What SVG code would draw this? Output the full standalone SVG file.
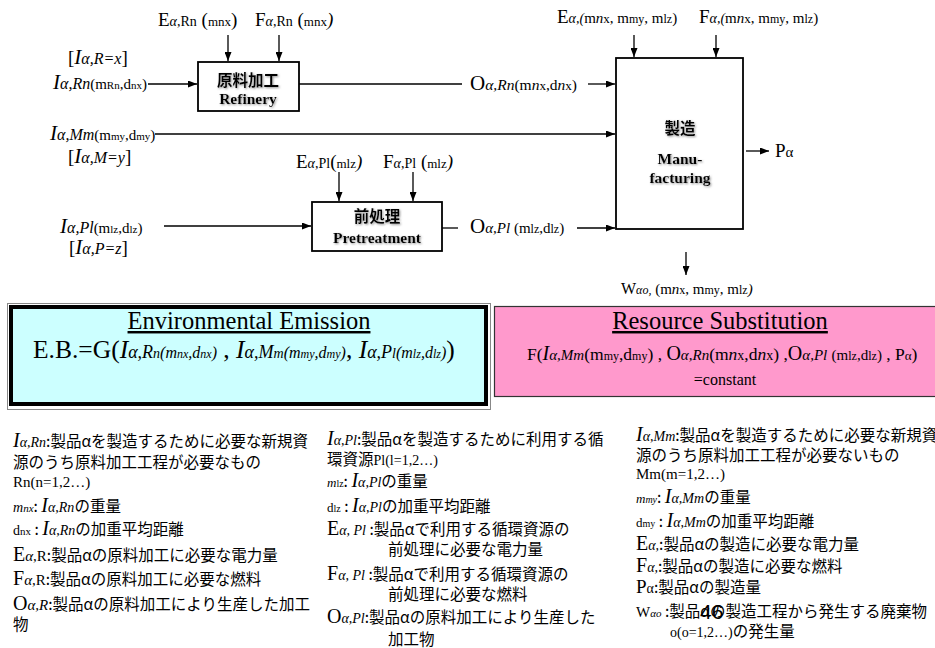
<svg xmlns="http://www.w3.org/2000/svg" width="935" height="648" viewBox="0 0 935 648">
  <style>
    .tm { font-family: "Liberation Serif", "Times New Roman", serif; fill: #000; }
    .jp { font-family: "Noto Sans CJK JP", sans-serif; fill: #000; }
    .it { font-style: italic; }
    .box { fill: #fff; stroke: #000; stroke-width: 1.8; }
    .ttl { font-weight: bold; font-size: 15.5px; text-anchor: middle; }
    .conn path { fill: none; stroke: #000; stroke-width: 1.3; }
    .arr { marker-end: url(#ah); }
    .legend { font-size: 15.5px; }
  </style>
  <defs>
    <marker id="ah" markerWidth="9" markerHeight="7" refX="9" refY="3.5" orient="auto" markerUnits="userSpaceOnUse">
      <path d="M0,0 L9,3.5 L0,7 z" fill="#000"/>
    </marker>
    <filter id="sh" x="-20%" y="-40%" width="140%" height="180%">
      <feDropShadow dx="1" dy="1" stdDeviation="0.8" flood-color="#777" flood-opacity="0.8"/>
    </filter>
  </defs>
  <rect width="935" height="648" fill="#fff"/>

  <!-- process nodes -->
  <g id="refinery">
    <rect class="box" x="198" y="62" width="101" height="49"/>
    <text class="jp ttl" x="248" y="86" filter="url(#sh)">原料加工</text>
    <text class="tm ttl" x="248" y="104" filter="url(#sh)">Refinery</text>
  </g>
  <g id="pretreatment">
    <rect class="box" x="312" y="202" width="130" height="49"/>
    <text class="jp ttl" x="377" y="222" filter="url(#sh)">前処理</text>
    <text class="tm ttl" x="377" y="243" filter="url(#sh)">Pretreatment</text>
  </g>
  <g id="manufacturing">
    <rect class="box" x="616" y="58" width="127" height="171" stroke-width="1.5"/>
    <text class="jp ttl" x="680" y="134" filter="url(#sh)">製造</text>
    <text class="tm ttl" x="680" y="164" filter="url(#sh)">Manu-</text>
    <text class="tm ttl" x="680" y="183" filter="url(#sh)">facturing</text>
  </g>

  <!-- connectors -->
  <g id="connectors" class="conn">
    <path class="arr" d="M148,84 H197"/>
    <path class="arr" d="M228,35 V61"/>
    <path class="arr" d="M279,35 V61"/>
    <path d="M299,84 H462"/>
    <path class="arr" d="M588,84 H615"/>
    <path class="arr" d="M155,134 H615"/>
    <path class="arr" d="M164,226 H311"/>
    <path class="arr" d="M339,172 V201"/>
    <path class="arr" d="M413,172 V201"/>
    <path d="M442,228 H458"/>
    <path class="arr" d="M577,228 H615"/>
    <path class="arr" d="M634,35 V57"/>
    <path class="arr" d="M716,35 V57"/>
    <path class="arr" d="M746,151 H769"/>
    <path class="arr" d="M686,252 V275"/>
  </g>

  <!-- flow labels -->
  <g id="labels" class="tm">
    <text x="158" y="26" font-size="19">E<tspan class="it" font-size="14">α</tspan><tspan font-size="14">,Rn</tspan> (<tspan font-size="13">mnx</tspan>)</text>
    <text x="255" y="26" font-size="19">F<tspan class="it" font-size="14">α</tspan><tspan font-size="14">,Rn</tspan> (<tspan font-size="13">mnx</tspan><tspan class="it">)</tspan></text>
    <text x="68" y="64" font-size="19">[<tspan class="it" font-size="21">I</tspan><tspan class="it" font-size="16">α,R=x</tspan>]</text>
    <text x="53" y="89" font-size="15"><tspan class="it" font-size="21">I</tspan><tspan class="it" font-size="16">α,Rn</tspan>(m<tspan font-size="11">Rn</tspan>,d<tspan font-size="11">nx</tspan>)</text>
    <text x="50" y="140" font-size="15"><tspan class="it" font-size="21">I</tspan><tspan class="it" font-size="16">α,Mm</tspan>(m<tspan font-size="11">my</tspan>,d<tspan font-size="11">my</tspan>)</text>
    <text x="68" y="163" font-size="19">[<tspan class="it" font-size="21">I</tspan><tspan class="it" font-size="16">α,M=y</tspan>]</text>
    <text x="60" y="233" font-size="15"><tspan class="it" font-size="21">I</tspan><tspan class="it" font-size="16">α,Pl</tspan>(m<tspan font-size="11">lz</tspan>,d<tspan font-size="11">lz</tspan>)</text>
    <text x="69" y="254" font-size="19">[<tspan class="it" font-size="21">I</tspan><tspan class="it" font-size="16">α,P=z</tspan>]</text>
    <text x="296" y="168" font-size="19">E<tspan class="it" font-size="14">α</tspan><tspan font-size="14">,Pl</tspan>(<tspan font-size="13">mlz</tspan><tspan class="it">)</tspan></text>
    <text x="383" y="168" font-size="19">F<tspan class="it" font-size="14">α</tspan><tspan font-size="14">,Pl</tspan> (<tspan font-size="13">mlz</tspan><tspan class="it">)</tspan></text>
    <text x="470" y="90" font-size="15.5"><tspan font-size="21">O</tspan><tspan class="it">α,Rn</tspan>(m<tspan class="it">n</tspan><tspan font-size="13">x</tspan>,d<tspan class="it">n</tspan><tspan font-size="13">x</tspan>)</text>
    <text x="470" y="233" font-size="15"><tspan font-size="21">O</tspan><tspan class="it">α,Pl</tspan> (m<tspan font-size="12">lz</tspan>,d<tspan font-size="12">lz</tspan>)</text>
    <text x="557" y="23" font-size="15"><tspan font-size="19">E</tspan><tspan class="it" font-size="14">α,(</tspan>m<tspan class="it">n</tspan><tspan font-size="13">x</tspan>, m<tspan font-size="12">my</tspan>, m<tspan font-size="12">lz</tspan>)</text>
    <text x="699" y="23" font-size="15"><tspan font-size="19">F</tspan><tspan class="it" font-size="14">α,(</tspan>m<tspan class="it">n</tspan><tspan font-size="13">x</tspan>, m<tspan font-size="12">my</tspan>, m<tspan font-size="12">lz</tspan>)</text>
    <text x="775" y="157" font-size="19">P<tspan font-size="15">α</tspan></text>
    <text x="621" y="294" font-size="15"><tspan font-size="16">W</tspan><tspan class="it" font-size="12">αo,</tspan> (m<tspan class="it">n</tspan><tspan font-size="12">x</tspan>, m<tspan font-size="12">my</tspan>, m<tspan font-size="12">lz</tspan><tspan class="it">)</tspan></text>
  </g>

  <!-- evaluation panels -->
  <g id="environmental-emission">
    <rect x="7.5" y="303.5" width="483" height="106" fill="none" stroke="#888" stroke-width="1"/>
    <rect x="11" y="307" width="475" height="97" fill="#ccffff" stroke="#000" stroke-width="4"/>
    <text class="tm" x="249" y="329" font-size="24.5" text-anchor="middle" text-decoration="underline">Environmental Emission</text>
    <text class="tm" x="33" y="358" font-size="25.5">E.B.=G(<tspan class="it">I</tspan><tspan class="it" font-size="18">α,R</tspan><tspan class="it" font-size="14">n</tspan><tspan class="it" font-size="16">(m</tspan><tspan class="it" font-size="12">nx</tspan><tspan class="it" font-size="16">,d</tspan><tspan class="it" font-size="12">nx</tspan><tspan class="it" font-size="16">)</tspan> , <tspan class="it">I</tspan><tspan class="it" font-size="18">α,M</tspan><tspan class="it" font-size="14">m</tspan><tspan class="it" font-size="16">(m</tspan><tspan class="it" font-size="12">my</tspan><tspan class="it" font-size="16">,d</tspan><tspan class="it" font-size="12">my</tspan><tspan class="it" font-size="16">)</tspan>, <tspan class="it">I</tspan><tspan class="it" font-size="18">α,P</tspan><tspan class="it" font-size="14">l</tspan><tspan class="it" font-size="16">(m</tspan><tspan class="it" font-size="12">lz</tspan><tspan class="it" font-size="16">,d</tspan><tspan class="it" font-size="12">lz</tspan><tspan class="it" font-size="16">)</tspan>)</text>
  </g>
  <g id="resource-substitution">
    <rect x="494.5" y="306.5" width="460" height="90" fill="#ff99cc" stroke="#333" stroke-width="1.2"/>
    <text class="tm" x="720" y="329" font-size="24.5" text-anchor="middle" text-decoration="underline">Resource Substitution</text>
    <text class="tm" x="527" y="360" font-size="17.5">F(<tspan class="it" font-size="20">I</tspan><tspan class="it" font-size="15">α,Mm</tspan>(m<tspan font-size="12">my</tspan>,d<tspan font-size="12">my</tspan>) , <tspan font-size="20">O</tspan><tspan class="it" font-size="15">α,Rn</tspan>(m<tspan class="it">n</tspan><tspan font-size="14">x</tspan>,d<tspan class="it">n</tspan><tspan font-size="14">x</tspan>) ,<tspan font-size="20">O</tspan><tspan class="it" font-size="15">α,Pl</tspan> <tspan font-size="15">(m</tspan><tspan font-size="12">lz</tspan><tspan font-size="15">,d</tspan><tspan font-size="12">lz</tspan><tspan font-size="15">)</tspan> , P<tspan font-size="13">α</tspan>)</text>
    <text class="tm" x="725" y="385" font-size="16" text-anchor="middle">=constant</text>
  </g>

  <!-- legend: new resources needing refining -->
  <g id="legend-refinery" class="jp legend">
    <text x="13" y="447"><tspan class="tm it" font-size="20">I</tspan><tspan class="tm it" font-size="14">α,Rn</tspan>:製品αを製造するために必要な新規資</text>
    <text x="13" y="468">源のうち原料加工工程が必要なもの</text>
    <text x="13" y="487" class="tm" font-size="15">Rn(n=1,2…)</text>
    <text x="13" y="512"><tspan class="tm it" font-size="14">m</tspan><tspan class="tm it" font-size="11">nx</tspan>: <tspan class="tm it" font-size="20">I</tspan><tspan class="tm it" font-size="14">α,Rn</tspan>の重量</text>
    <text x="13" y="535"><tspan class="tm" font-size="14">d</tspan><tspan class="tm" font-size="11">nx</tspan> : <tspan class="tm it" font-size="20">I</tspan><tspan class="tm it" font-size="14">α,Rn</tspan>の加重平均距離</text>
    <text x="13" y="561"><tspan class="tm" font-size="20">E</tspan><tspan class="tm it" font-size="15">α</tspan><tspan class="tm" font-size="15">,R</tspan>:製品αの原料加工に必要な電力量</text>
    <text x="13" y="585"><tspan class="tm" font-size="20">F</tspan><tspan class="tm it" font-size="15">α</tspan><tspan class="tm" font-size="15">,R</tspan>:製品αの原料加工に必要な燃料</text>
    <text x="13" y="610"><tspan class="tm" font-size="20">O</tspan><tspan class="tm it" font-size="15">α,R</tspan>:製品αの原料加工により生産した加工</text>
    <text x="13" y="630">物</text>
  </g>

  <!-- legend: recycled resources needing pretreatment -->
  <g id="legend-pretreatment" class="jp legend">
    <text x="327" y="445"><tspan class="tm it" font-size="20">I</tspan><tspan class="tm it" font-size="14">α,Pl</tspan>:製品αを製造するために利用する循</text>
    <text x="327" y="465">環資源<tspan class="tm" font-size="14">Pl(l=1,2…)</tspan></text>
    <text x="327" y="487"><tspan class="tm it" font-size="13">m</tspan><tspan class="tm" font-size="10">lz</tspan>: <tspan class="tm it" font-size="20">I</tspan><tspan class="tm it" font-size="14">α,Pl</tspan>の重量</text>
    <text x="327" y="512"><tspan class="tm" font-size="13">d</tspan><tspan class="tm" font-size="10">lz</tspan> : <tspan class="tm it" font-size="20">I</tspan><tspan class="tm it" font-size="14">α,Pl</tspan>の加重平均距離</text>
    <text x="327" y="535"><tspan class="tm" font-size="20">E</tspan><tspan class="tm it" font-size="14">α, Pl</tspan> :製品αで利用する循環資源の</text>
    <text x="388" y="555">前処理に必要な電力量</text>
    <text x="327" y="580"><tspan class="tm" font-size="20">F</tspan><tspan class="tm it" font-size="14">α, Pl</tspan> :製品αで利用する循環資源の</text>
    <text x="388" y="600">前処理に必要な燃料</text>
    <text x="327" y="623"><tspan class="tm" font-size="20">O</tspan><tspan class="tm it" font-size="14">α,Pl</tspan>:製品αの原料加工により生産した</text>
    <text x="388" y="645">加工物</text>
  </g>

  <!-- legend: new resources used directly in manufacturing -->
  <g id="legend-manufacturing" class="jp legend">
    <text x="636" y="441"><tspan class="tm it" font-size="20">I</tspan><tspan class="tm it" font-size="14">α,Mm</tspan>:製品αを製造するために必要な新規資</text>
    <text x="636" y="461">源のうち原料加工工程が必要ないもの</text>
    <text x="636" y="479" class="tm" font-size="15">Mm(m=1,2…)</text>
    <text x="636" y="503"><tspan class="tm it" font-size="13">m</tspan><tspan class="tm it" font-size="10">my</tspan>: <tspan class="tm it" font-size="20">I</tspan><tspan class="tm it" font-size="14">α,Mm</tspan>の重量</text>
    <text x="636" y="527"><tspan class="tm" font-size="13">d</tspan><tspan class="tm" font-size="10">my</tspan> : <tspan class="tm it" font-size="20">I</tspan><tspan class="tm it" font-size="14">α,Mm</tspan>の加重平均距離</text>
    <text x="636" y="550"><tspan class="tm" font-size="20">E</tspan><tspan class="tm it" font-size="14">α,</tspan>:製品αの製造に必要な電力量</text>
    <text x="636" y="572"><tspan class="tm" font-size="20">F</tspan><tspan class="tm it" font-size="14">α,</tspan>:製品αの製造に必要な燃料</text>
    <text x="636" y="593"><tspan class="tm" font-size="19">P</tspan><tspan class="tm" font-size="14">α</tspan>:製品αの製造量</text>
    <text x="636" y="617"><tspan class="tm" font-size="15">W</tspan><tspan class="tm it" font-size="11">αo</tspan> :製品αの製造工程から発生する廃棄物</text>
    <text x="670" y="637"><tspan class="tm" font-size="14">o(o=1,2…)</tspan>の発生量</text>
  </g>

  <!-- page number -->
  <text x="700" y="619" font-family="Liberation Sans, Arial, sans-serif" font-size="21">46</text>
</svg>
